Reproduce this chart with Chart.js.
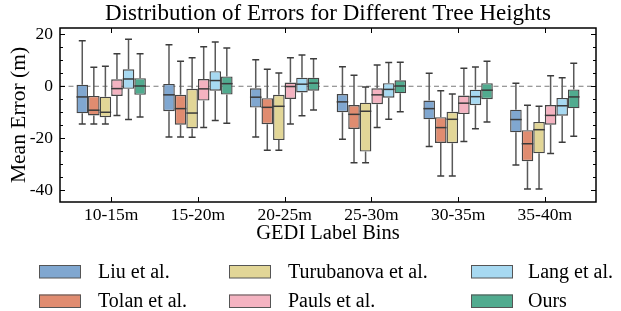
<!DOCTYPE html>
<html><head><meta charset="utf-8">
<script src="https://cdn.jsdelivr.net/npm/chart.js@4/dist/chart.umd.min.js"></script>
<style>html,body{margin:0;padding:0;background:#fff}canvas{display:block}</style>
</head><body>
<canvas id="c" width="621" height="311"></canvas>
<script>
// ---- data (each entry: [lowerWhisker, Q1, median, Q3, upperWhisker]) ----
const categories = ['10-15m','15-20m','20-25m','25-30m','30-35m','35-40m'];
const methods = ['Liu et al.','Tolan et al.','Turubanova et al.','Pauls et al.','Lang et al.','Ours'];
const methodColors = ['#80a7d0','#e08c70','#e2d697','#f4b3c1','#a7d9f1','#51ab8f'];
const yTicks = [20, 0, -20, -40];

const liuStats = [[-14.5,-10.4,-4.1,0.6,17.5],[-19.5,-9.6,-3.3,0.9,16.0],[-19.5,-8.2,-4.2,-0.8,10.2],[-20.4,-10.0,-6.0,-3.0,7.5],[-23.2,-12.7,-8.6,-5.5,5.0],[-30.3,-17.7,-12.8,-9.0,1.2]];
const tolanStats = [[-14.5,-11.2,-9.2,-3.7,7.3],[-19.5,-14.8,-8.6,-3.3,9.6],[-24.6,-14.6,-8.1,-4.6,6.5],[-29.4,-16.4,-10.8,-7.2,4.2],[-34.5,-21.8,-15.9,-11.9,-1.7],[-39.5,-28.8,-22.1,-16.9,-7.3]];
const turubanovaStats = [[-14.5,-11.9,-10.0,-4.0,7.7],[-19.6,-16.2,-10.3,-1.0,11.0],[-24.6,-20.7,-7.7,-3.3,5.1],[-29.4,-25.1,-9.6,-6.3,-0.3],[-34.5,-21.9,-12.7,-9.8,-3.0],[-39.5,-25.8,-16.7,-13.7,-7.7]];
const paulsStats = [[-11.2,-3.7,-0.9,2.7,12.5],[-15.9,-5.5,-1.0,2.8,15.2],[-14.5,-4.9,-0.1,1.4,11.0],[-15.9,-6.9,-3.3,-0.8,8.2],[-21.2,-10.7,-6.5,-3.6,6.9],[-25.9,-14.8,-11.2,-7.2,4.0]];
const langStats = [[-12.8,-1.0,2.8,6.5,18.1],[-13.2,-1.7,2.2,5.8,17.0],[-11.3,-2.4,0.8,3.3,12.0],[-12.7,-4.4,-1.2,1.2,9.1],[-16.3,-7.3,-4.0,-1.3,7.4],[-21.5,-11.3,-7.5,-4.5,3.3]];
const oursStats = [[-11.8,-3.3,0.1,3.1,12.5],[-14.2,-3.2,1.0,3.8,14.7],[-9.1,-1.7,1.2,3.3,10.6],[-9.8,-2.7,0.1,2.3,9.2],[-13.7,-5.0,-1.5,1.2,9.6],[-19.2,-8.5,-4.1,-1.2,8.8]];

const allStats = [liuStats, tolanStats, turubanovaStats, paulsStats, langStats, oursStats];
const SERIF = '"Liberation Serif", "Times New Roman", serif';

const datasets = methods.map((m, k) => ({
  label: m,
  data: allStats[k].map((s, i) => ({x: i, y: [s[1], s[3]]})),
  stats: allStats[k],
  backgroundColor: methodColors[k],
  borderColor: '#454545',
  borderWidth: 1.4,
  borderSkipped: false,
  categoryPercentage: 0.8,
  barPercentage: 1.0
}));

const zeroLine = {
  id: 'zeroLine',
  beforeDatasetsDraw(chart) {
    const {ctx, chartArea: a, scales: {y}} = chart;
    const py = y.getPixelForValue(0);
    ctx.save();
    ctx.strokeStyle = '#7a7a7a'; ctx.lineWidth = 1; ctx.setLineDash([5, 3.5]);
    ctx.beginPath(); ctx.moveTo(a.left, py); ctx.lineTo(a.right, py); ctx.stroke();
    ctx.restore();
  }
};

const boxParts = {
  id: 'boxParts',
  afterDatasetsDraw(chart) {
    const {ctx, scales: {y}} = chart;
    ctx.save();
    chart.data.datasets.forEach((ds, k) => {
      const meta = chart.getDatasetMeta(k);
      meta.data.forEach((el, i) => {
        const s = ds.stats[i];
        const x = el.x, w = el.width;
        const pLo = y.getPixelForValue(s[0]), pQ1 = y.getPixelForValue(s[1]);
        const pMed = y.getPixelForValue(s[2]), pQ3 = y.getPixelForValue(s[3]);
        const pHi = y.getPixelForValue(s[4]);
        ctx.strokeStyle = '#595959'; ctx.lineWidth = 1.5;
        ctx.beginPath();
        ctx.moveTo(x, pQ3); ctx.lineTo(x, pHi);
        ctx.moveTo(x, pQ1); ctx.lineTo(x, pLo);
        ctx.stroke();
        ctx.strokeStyle = '#3c3c3c';
        const cw = w * 0.3;
        ctx.beginPath();
        ctx.moveTo(x - cw, pHi); ctx.lineTo(x + cw, pHi);
        ctx.moveTo(x - cw, pLo); ctx.lineTo(x + cw, pLo);
        ctx.stroke();
        ctx.strokeStyle = '#3a3a3a'; ctx.lineWidth = 1.5;
        ctx.beginPath();
        ctx.moveTo(x - w / 2, pMed); ctx.lineTo(x + w / 2, pMed);
        ctx.stroke();
      });
    });
    ctx.restore();
  }
};

const frameTicks = {
  id: 'frameTicks',
  afterDraw(chart) {
    const {ctx, chartArea: a, scales: {x, y}} = chart;
    ctx.save();
    ctx.strokeStyle = '#000'; ctx.lineWidth = 1;
    ctx.beginPath();
    for (let v = -40; v <= 20; v += 5) {
      const py = Math.round(y.getPixelForValue(v)) + 0.5;
      const len = (v % 20 === 0) ? 5 : 3;
      ctx.moveTo(a.left, py); ctx.lineTo(a.left + len, py);
      ctx.moveTo(a.right, py); ctx.lineTo(a.right - len, py);
    }
    categories.forEach((c, i) => {
      const px = Math.round(x.getPixelForValue(i)) + 0.5;
      ctx.moveTo(px, a.bottom); ctx.lineTo(px, a.bottom - 5);
      ctx.moveTo(px, a.top); ctx.lineTo(px, a.top + 5);
    });
    ctx.stroke();
    ctx.lineWidth = 1.5;
    ctx.strokeRect(a.left, a.top, a.right - a.left, a.bottom - a.top);
    ctx.restore();
  }
};

const customLegend = {
  id: 'customLegend',
  afterDraw(chart) {
    const {ctx} = chart;
    const colPatchX = [39, 229, 471];
    const colTextX = [98, 288, 528];
    const rowY = [271.5, 301];
    ctx.save();
    ctx.font = '20px ' + SERIF;
    ctx.textBaseline = 'middle';
    ctx.fillStyle = '#000';
    chart.data.datasets.forEach((ds, k) => {
      const col = Math.floor(k / 2), row = k % 2;
      const px = colPatchX[col], py = rowY[row];
      ctx.fillStyle = ds.backgroundColor;
      ctx.fillRect(px, py - 6.5, 42, 13);
      ctx.strokeStyle = '#555'; ctx.lineWidth = 1;
      ctx.strokeRect(px + 0.5, py - 6, 41, 12.5);
      ctx.fillStyle = '#000';
      ctx.fillText(ds.label, colTextX[col], py + 1);
    });
    ctx.restore();
  }
};

new Chart(document.getElementById('c'), {
  type: 'bar',
  data: {datasets},
  options: {
    responsive: false,
    devicePixelRatio: 1,
    animation: false,
    events: [],
    layout: {padding: {left: 0, right: 25, top: 0, bottom: 64}},
    plugins: {
      legend: {display: false},
      tooltip: {enabled: false},
      title: {
        display: true,
        fullSize: false,
        text: 'Distribution of Errors for Different Tree Heights',
        color: '#000',
        font: {family: SERIF, size: 23, weight: 'normal'},
        padding: {top: 0, bottom: 0.4}
      }
    },
    scales: {
      x: {
        type: 'linear',
        offset: false,
        min: -0.59, max: 5.59,
        afterBuildTicks(scale) { scale.ticks = categories.map((c, i) => ({value: i})); },
        afterFit(scale) { scale.height = 45; },
        grid: {display: false, drawTicks: false, offset: false},
        border: {display: false},
        ticks: {
          color: '#000', padding: 3,
          font: {family: SERIF, size: 17.5},
          maxRotation: 0, autoSkip: false,
          callback: (v) => categories[v]
        },
        title: {
          display: true, text: 'GEDI Label Bins', color: '#000',
          font: {family: SERIF, size: 20.5}, padding: {top: 0, bottom: 1}
        }
      },
      y: {
        min: -44.5, max: 22.4,
        afterBuildTicks(scale) { scale.ticks = yTicks.map(v => ({value: v})); },
        afterFit(scale) { scale.width = 60; },
        grid: {display: false, drawTicks: false},
        border: {display: false},
        ticks: {color: '#000', padding: 7, font: {family: SERIF, size: 17.5}},
        title: {
          display: true, text: 'Mean Error (m)', color: '#000',
          font: {family: SERIF, size: 21.5}, padding: {top: 6, bottom: 0}
        }
      }
    }
  },
  plugins: [zeroLine, boxParts, frameTicks, customLegend]
});
</script>
</body></html>
